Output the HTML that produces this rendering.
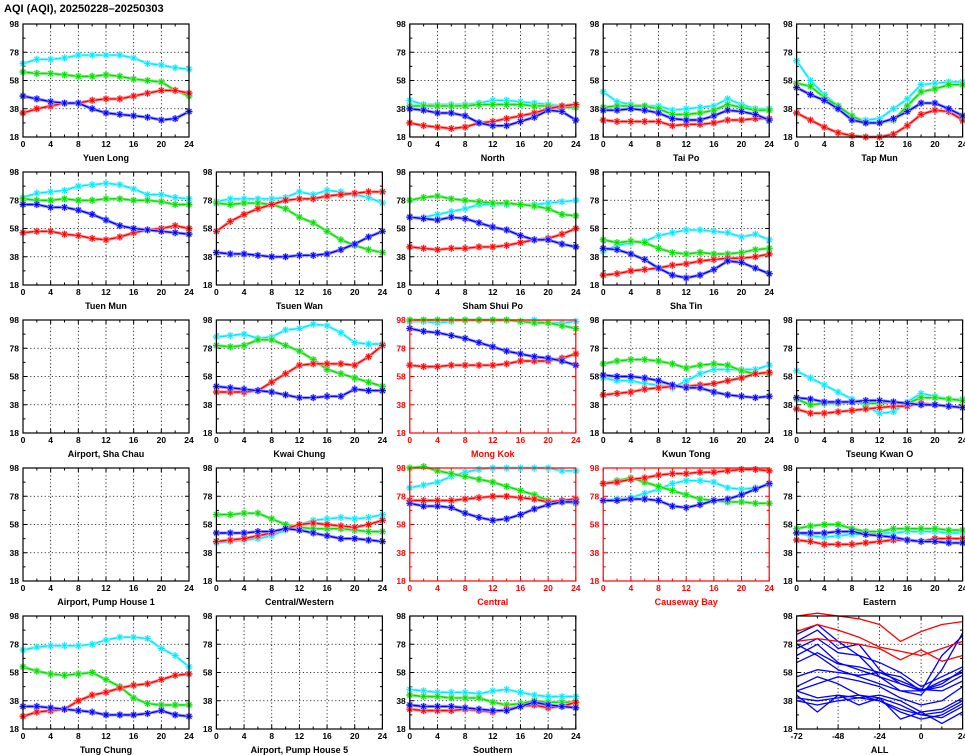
<!DOCTYPE html>
<html><head><meta charset="utf-8">
<style>
html,body{margin:0;padding:0;background:#fff;}
svg{display:block;font-family:"Liberation Sans",sans-serif;}
</style></head>
<body>
<svg id="chart" width="965" height="755" viewBox="0 0 965 755" xmlns="http://www.w3.org/2000/svg">
<text x="4" y="12" font-size="11" font-weight="bold">AQI (AQI), 20250228–20250303</text>
</svg>
<script>
const hours = [0,2,4,6,8,10,12,14,16,18,20,22,24];
const xTickLabels = [0,4,8,12,16,20,24];
const yTickLabels = [18,38,58,78,98];
const allXTickLabels = [-72,-48,-24,0,24];
const allHours = [-72,-60,-48,-36,-24,-12,0,12,24];
const panelNames = ["Yuen Long","North","Tai Po","Tap Mun","Tuen Mun","Tsuen Wan","Sham Shui Po","Sha Tin","Airport, Sha Chau","Kwai Chung","Mong Kok","Kwun Tong","Tseung Kwan O","Airport, Pump House 1","Central/Western","Central","Causeway Bay","Eastern","Tung Chung","Airport, Pump House 5","Southern","ALL"];
const panelRows = [0,0,0,0,1,1,1,1,2,2,2,2,2,3,3,3,3,3,4,4,4,4];
const panelCols = [0,2,3,4,0,1,2,3,0,1,2,3,4,0,1,2,3,4,0,1,2,4];
const highlighted = ["Mong Kok","Central","Causeway Bay"];
const cyanSeries = [
[70,73,73,74,76,76,76,76,74,70,69,67,66],
[44,41,41,41,41,42,44,44,43,42,41,40,40],
[50,43,41,40,40,37,38,39,40,45,41,38,38],
[72,58,48,40,32,30,31,38,45,55,56,57,57],
[80,83,84,85,88,89,90,89,86,82,82,80,79],
[77,79,79,79,79,80,84,82,85,84,82,80,76],
[66,66,68,70,72,75,75,75,75,75,76,77,78],
[42,46,48,49,53,55,57,57,56,55,52,54,50],
null,
[86,87,88,85,86,91,92,95,94,89,82,81,81],
[97,97,96,97,98,98,98,98,97,98,96,96,97],
[57,55,55,53,52,50,55,60,63,63,63,63,66],
[62,57,52,47,42,37,32,33,40,46,44,42,42],
null,
[45,46,47,48,50,54,58,61,62,63,62,63,65],
[84,86,88,92,95,97,98,98,98,98,98,96,96],
[75,76,77,80,83,87,89,89,88,84,83,84,86],
[52,50,49,50,51,51,52,52,53,53,53,52,52],
[74,76,77,77,77,78,81,83,83,82,75,70,62],
null,
[46,45,44,44,44,43,45,46,44,42,41,41,41],
null];
const greenSeries = [
[64,63,63,62,61,61,62,61,59,58,57,51,47],
[40,40,40,40,40,41,41,41,41,40,40,39,39],
[39,40,40,40,38,34,34,35,37,41,39,37,37],
[56,54,46,40,33,28,28,30,40,50,52,55,55],
[79,78,78,79,78,78,79,79,78,78,77,75,75],
[76,75,76,76,75,72,66,62,56,50,46,43,41],
[78,80,81,79,78,77,76,76,75,74,72,68,67],
[50,48,49,48,44,41,40,41,40,40,41,43,44],
null,
[80,79,80,84,84,80,76,70,63,60,57,54,51],
[98,98,98,98,98,98,98,98,97,96,96,94,92],
[67,69,70,70,69,67,64,66,67,66,62,60,60],
[42,38,39,39,40,39,39,40,39,43,43,42,41],
null,
[65,65,66,66,62,58,56,55,55,55,54,53,53],
[98,99,96,94,92,90,88,85,82,79,75,74,73],
[87,89,91,88,85,82,79,76,75,74,74,73,73],
[55,57,58,58,55,53,53,55,55,55,55,54,54],
[62,59,57,56,57,58,53,48,40,36,35,35,35],
null,
[42,41,41,40,40,40,37,35,36,38,37,37,37],
null];
const redSeries = [
[35,38,40,42,42,44,45,45,47,49,51,51,49],
[28,26,25,24,25,28,29,31,33,35,38,40,41],
[30,29,29,29,29,26,27,27,28,30,30,31,31],
[35,30,25,21,19,18,18,20,26,34,37,36,30],
[55,56,56,54,53,51,50,52,55,57,58,60,58],
[56,63,68,72,75,78,79,79,81,82,83,84,84],
[45,44,43,44,44,45,45,46,48,50,51,54,58],
[25,26,28,29,30,32,33,35,36,37,37,38,40],
null,
[47,47,47,48,54,60,66,67,67,67,66,72,80],
[66,65,65,66,66,66,66,67,69,69,69,71,74],
[45,46,47,49,50,51,51,52,53,55,57,60,61],
[35,32,32,33,34,35,36,37,37,39,38,37,36],
null,
[46,47,48,50,52,55,58,59,58,57,56,58,61],
[75,75,75,75,76,77,78,78,77,76,74,75,76],
[87,88,90,91,93,94,94,95,95,96,97,97,96],
[47,46,44,44,44,45,46,47,47,46,48,48,48],
[27,30,31,32,38,42,44,47,49,50,53,56,57],
null,
[32,31,31,31,32,31,30,32,34,35,33,34,37],
null];
const blueSeries = [
[47,45,43,42,42,38,35,34,33,32,30,31,36],
[38,37,35,35,33,28,26,26,29,32,37,36,30],
[37,37,38,37,35,31,30,30,33,37,36,34,30],
[53,48,44,38,30,28,28,31,36,42,42,38,33],
[75,75,73,73,71,68,64,60,58,57,56,55,54],
[41,40,40,39,38,38,39,39,40,43,47,52,56],
[66,65,64,66,65,62,59,57,53,50,50,47,45],
[44,43,40,36,30,25,23,25,29,35,34,30,26],
null,
[51,50,49,48,47,45,43,43,44,44,49,48,48],
[92,90,89,87,85,82,79,76,74,72,71,69,66],
[59,58,58,57,55,52,50,50,47,45,44,43,44],
[43,42,40,40,40,41,41,40,39,38,38,37,36],
null,
[52,52,52,53,53,55,54,52,50,48,48,47,46],
[73,71,71,70,66,63,61,62,65,69,72,74,74],
[75,75,76,76,75,71,70,72,75,76,79,83,87],
[52,52,52,53,53,51,50,49,47,46,46,45,45],
[34,34,33,32,31,30,28,28,28,29,31,28,27],
null,
[35,34,34,34,33,32,31,31,34,37,35,34,33],
null];
const allRedLines = [
[98,100,98,96,92,80,87,92,94],
[87,92,88,83,76,73,70,75,80],
[80,82,80,78,75,67,74,66,70]];
const allBlueLines = [
[85,92,80,70,55,45,42,60,86],
[80,88,75,78,60,50,45,70,84],
[75,82,72,70,65,58,48,55,62],
[70,78,65,60,55,50,45,50,60],
[65,72,64,62,58,55,45,48,56],
[55,60,58,56,58,52,46,45,52],
[45,50,55,52,48,40,35,38,48],
[45,40,42,40,42,38,30,32,40],
[40,38,40,42,40,35,28,30,38],
[42,30,42,35,40,25,30,22,30],
[38,35,38,40,38,32,28,26,34],
[48,55,50,42,38,30,25,28,36],
[78,70,60,55,50,45,45,52,58]];

const NS = "http://www.w3.org/2000/svg";
const svg = document.getElementById("chart");
const PW = 166, PH = 113;
const YMIN = 18, YMAX = 98;
function mk(tag, attrs, parent){const e=document.createElementNS(NS,tag);for(const k in attrs)e.setAttribute(k,attrs[k]);(parent||svg).appendChild(e);return e;}
function panelLeft(c){return 23 + c*193.4;}
function panelTop(r){return 24 + r*148;}
function starPath(cx,cy,r){return `M${cx-r},${cy}L${cx+r},${cy}M${cx},${cy-r}L${cx},${cy+r}M${cx-r*0.7},${cy-r*0.7}L${cx+r*0.7},${cy+r*0.7}M${cx-r*0.7},${cy+r*0.7}L${cx+r*0.7},${cy-r*0.7}`;}

function drawStarSeries(g, xs, vals, xScale, yScale, color, halo, nm){
  let d = "";
  vals.forEach((v,i)=>{d += (i?"L":"M")+xScale(xs[i]).toFixed(1)+","+yScale(v).toFixed(1);});
  const under = mk("path",{d:d,fill:"none",stroke:halo,"stroke-width":3.2,"stroke-linejoin":"round"},g);
  
  
  const line = mk("path",{d:d,fill:"none",stroke:color,"stroke-width":1.4,"stroke-linejoin":"round"},g);
  
  
  vals.forEach((v,i)=>{
    const cx=xScale(xs[i]), cy=yScale(v);
    const m = mk("path",{d:starPath(cx,cy,3.6),stroke:halo,"stroke-width":2,fill:"none"},g);
    
    
    const m2 = mk("path",{d:starPath(cx,cy,3.4),stroke:color,"stroke-width":0.9,fill:"none"},g);
    
    
  });
}

panelNames.forEach((name, idx)=>{
  const L = panelLeft(panelCols[idx]), T = panelTop(panelRows[idx]);
  const isAll = name === "ALL";
  const hi = highlighted.includes(name);
  const ink = hi ? "#ff0000" : "#000";
  const xmin = isAll ? -72 : 0, xmax = 24;
  const xScale = v => L + (v - xmin)/(xmax - xmin)*PW;
  const yScale = v => T + PH - (v - YMIN)/(YMAX - YMIN)*PH;
  const slug = name.toLowerCase().replace(/[^a-z0-9]+/g,'-').replace(/-$/,'');
  const g = mk("g",{});
  
  
  const xl = isAll ? allXTickLabels : xTickLabels;
  xl.forEach(v=>{ if(v>xmin && v<xmax){ const gl=mk("line",{x1:xScale(v),x2:xScale(v),y1:T,y2:T+PH,stroke:"#000","stroke-width":0.8,"stroke-dasharray":"1.2,2.4"},g);   }});
  yTickLabels.forEach(v=>{ if(v>YMIN){ const gl=mk("line",{x1:L,x2:L+PW,y1:yScale(v),y2:yScale(v),stroke:"#000","stroke-width":0.8,"stroke-dasharray":"1.2,2.4"},g);   }});
  const xStep = isAll ? 12 : 2;
  for(let v=xmin; v<=xmax; v+=xStep){
    const major = xl.includes(v); const len = major?4:2.5;
    mk("line",{x1:xScale(v),x2:xScale(v),y1:T+PH,y2:T+PH-len,stroke:ink,"stroke-width":1},g);
    mk("line",{x1:xScale(v),x2:xScale(v),y1:T,y2:T+len,stroke:ink,"stroke-width":1},g);
  }
  for(let v=YMIN; v<=YMAX; v+=10){
    const major = yTickLabels.includes(v); const len = major?4:2.5;
    mk("line",{x1:L,x2:L+len,y1:yScale(v),y2:yScale(v),stroke:ink,"stroke-width":1},g);
    mk("line",{x1:L+PW,x2:L+PW-len,y1:yScale(v),y2:yScale(v),stroke:ink,"stroke-width":1},g);
  }
  xl.forEach(v=>{ const t=mk("text",{x:xScale(v),y:T+PH+10,"font-size":8.5,"font-weight":"bold","text-anchor":"middle",fill:ink},g); t.textContent=v;   });
  yTickLabels.forEach(v=>{ const t=mk("text",{x:L-4,y:yScale(v)+3,"font-size":8.5,"font-weight":"bold","text-anchor":"end",fill:ink},g); t.textContent=v;   });
  if(isAll){
    allBlueLines.forEach(vals=>{ let d=""; vals.forEach((v,i)=>{d+=(i?"L":"M")+xScale(allHours[i]).toFixed(1)+","+yScale(v).toFixed(1);}); const p=mk("path",{d:d,fill:"none",stroke:"#0000ff","stroke-width":1.3,"stroke-linejoin":"round"},g);   });
    allRedLines.forEach(vals=>{ let d=""; vals.forEach((v,i)=>{d+=(i?"L":"M")+xScale(allHours[i]).toFixed(1)+","+yScale(v).toFixed(1);}); const p=mk("path",{d:d,fill:"none",stroke:"#ff0000","stroke-width":1.3,"stroke-linejoin":"round"},g);   });
  } else if(cyanSeries[idx]){
    drawStarSeries(g, hours, cyanSeries[idx], xScale, yScale, "#00e8ff", "#a8f8ff", "cyan-series");
    drawStarSeries(g, hours, greenSeries[idx], xScale, yScale, "#00e000", "#98f098", "green-series");
    drawStarSeries(g, hours, redSeries[idx], xScale, yScale, "#ff0000", "#ff9c9c", "red-series");
    drawStarSeries(g, hours, blueSeries[idx], xScale, yScale, "#0000ff", "#9c9cff", "blue-series");
  }
  const f = mk("rect",{x:L,y:T,width:PW,height:PH,fill:"none",stroke:ink,"stroke-width":1.2},g);
  
  
  const title = mk("text",{x:L+PW/2,y:T+PH+24,"font-size":9,"font-weight":"bold","text-anchor":"middle",fill:ink},g);
  title.textContent = name;
  
  
});
</script>
</body></html>
